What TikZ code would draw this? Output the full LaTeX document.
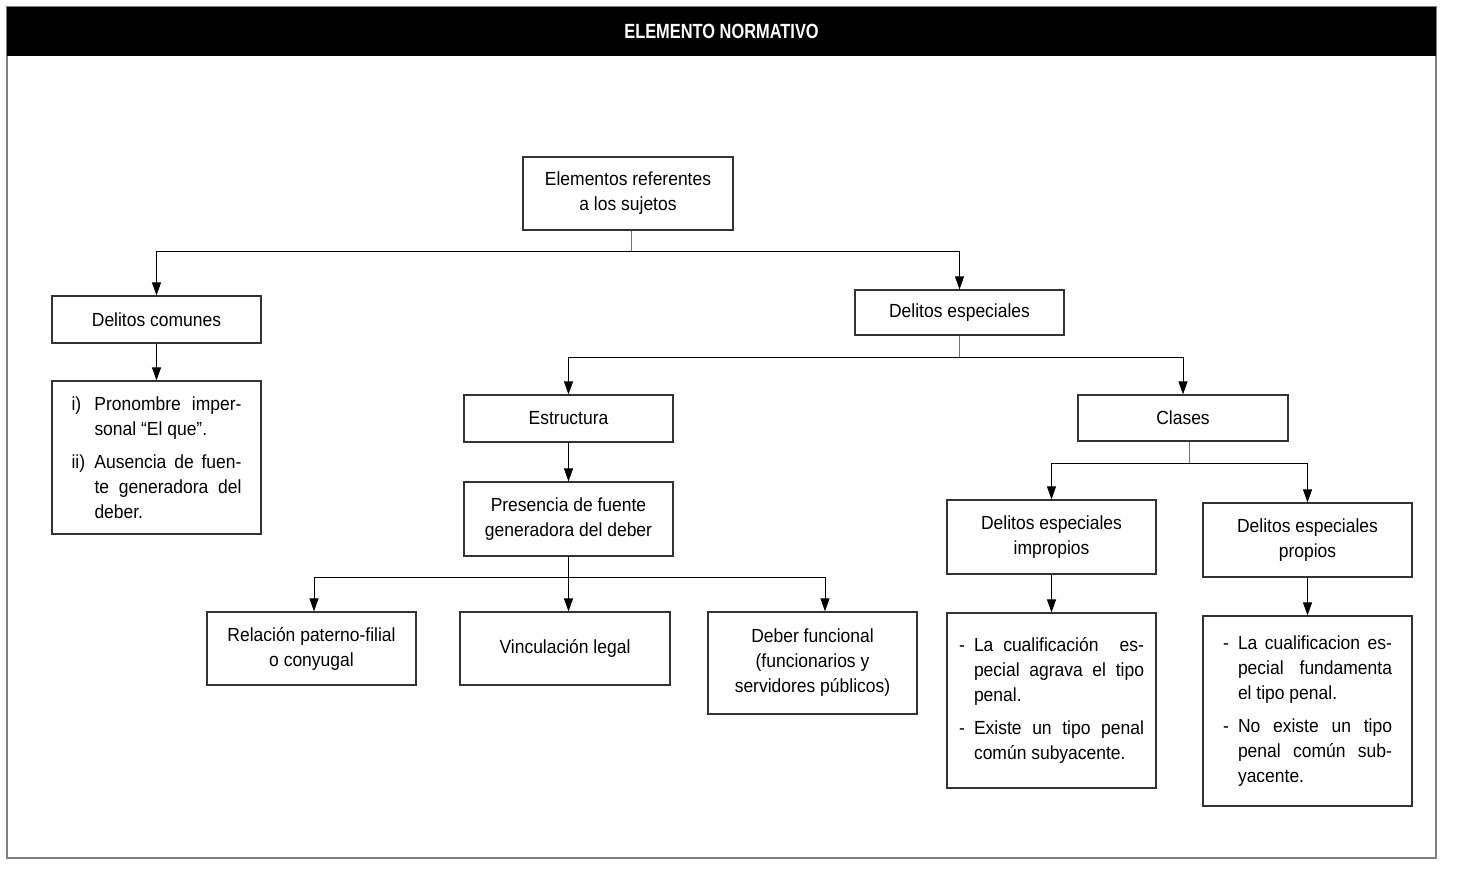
\documentclass[tikz,border=0pt]{standalone}
\usepackage{fontspec}
\setmainfont{Liberation Sans}[FakeStretch=0.92]
\newfontfamily\titlefont{Liberation Sans}[FakeStretch=0.8]
\usetikzlibrary{arrows.meta}
\begin{document}
\begin{tikzpicture}[x=1pt,y=-1pt,
  box/.style={draw=black!80, line width=1.2pt, fill=white, minimum width=209pt, inner sep=0pt, align=center, font=\fontsize{19}{25}\selectfont},
  lst/.style={box, align=justify},
  conn/.style={line width=1pt},
  stub/.style={line width=1pt, draw=black!55},
  arr/.style={line width=1pt, -{Triangle[length=13pt,width=9pt]}},
]
\useasboundingbox (0,0) rectangle (1458,871);
\draw[black!50, line width=1.5pt] (7,7) rectangle (1436,858);
\fill[black] (7,7) rectangle (1436,56);
\node[text=white, font=\titlefont\bfseries\fontsize{20.5}{22}\selectfont] (title) at (721.5,31.5) {ELEMENTO NORMATIVO};

% nodes
\node[box, minimum width=210pt, minimum height=73pt] (er) at (628,193.5) {Elementos referentes\\a los sujetos};
\node[box, minimum height=47pt] (dc) at (156.5,319.5) {Delitos comunes};
\node[lst, minimum height=153pt, text width=170pt] (dcl) at (156.5,457.5) {\parindent0pt\parskip8pt\tolerance10000
\hangindent23pt\hangafter1\makebox[23pt][l]{i)}Pronombre imper-\linebreak sonal “El que”.\par
\hangindent23pt\hangafter1\makebox[23pt][l]{ii)}Ausencia de fuen-\linebreak te generadora del\linebreak deber.\par};
\node[box, minimum height=45pt] (de) at (959.5,312.5) {Delitos especiales};
\node[box, minimum height=47pt] (es) at (568.5,418.5) {Estructura};
\node[box, minimum height=74pt] (pf) at (568.5,519) {Presencia de fuente\\generadora del deber};
\node[box, minimum height=73pt] (rp) at (311.5,648.5) {Relación paterno-filial\\o conyugal};
\node[box, minimum width=210pt, minimum height=73pt] (vl) at (565,648.5) {Vinculación legal};
\node[box, minimum height=102pt] (df) at (812.5,663) {Deber funcional\\(funcionarios y\\servidores públicos)};
\node[box, minimum width=210pt, minimum height=46pt] (cl) at (1183,418) {Clases};
\node[box, minimum height=74pt] (dei) at (1051.5,537) {Delitos especiales\\impropios};
\node[box, minimum height=74pt] (dep) at (1307.5,540) {Delitos especiales\\propios};
\node[lst, minimum height=175pt, text width=185pt] (deil) at (1051.5,700.5) {\parindent0pt\parskip8pt\tolerance10000
\hangindent15pt\hangafter1\makebox[15pt][l]{-}La cualificación\hspace{0.6em} es-\linebreak pecial agrava el tipo\linebreak penal.\par
\hangindent15pt\hangafter1\makebox[15pt][l]{-}Existe un tipo penal\linebreak común subyacente.\par\vspace*{10pt}};
\node[lst, minimum height=190pt, text width=169pt] (depl) at (1307.5,711) {\parindent0pt\parskip8pt\tolerance10000
\hangindent15pt\hangafter1\makebox[15pt][l]{-}La cualificacion es-\linebreak pecial fundamenta\linebreak el tipo penal.\par
\hangindent15pt\hangafter1\makebox[15pt][l]{-}No existe un tipo\linebreak penal común sub-\linebreak yacente.\par};

% connectors
\coordinate (j1) at (631,251);
\draw[stub] (er.south -| j1) -- (j1);
\draw[arr] (j1) -| (dc.north);
\draw[arr] (j1) -| (de.north);
\draw[arr] (dc.south) -- (dcl.north);

\coordinate (j2) at (959.5,357);
\draw[stub] (de.south) -- (j2);
\draw[arr] (j2) -| (es.north);
\draw[arr] (j2) -| (cl.north);
\draw[arr] (es.south) -- (pf.north);

\coordinate (j3) at (568.5,577);
\coordinate (a1) at (314,577);
\coordinate (a3) at (825,577);
\draw[conn] (pf.south) -- (j3);
\draw[conn] (a1) -- (a3);
\draw[arr] (a1) -- (a1 |- rp.north);
\draw[arr] (j3) -- (j3 |- vl.north);
\draw[arr] (a3) -- (a3 |- df.north);

\coordinate (j4) at (1189,463);
\draw[stub] (cl.south -| j4) -- (j4);
\draw[arr] (j4) -| (dei.north);
\draw[arr] (j4) -| (dep.north);
\draw[arr] (dei.south) -- (deil.north);
\draw[arr] (dep.south) -- (depl.north);
\end{tikzpicture}
\end{document}
